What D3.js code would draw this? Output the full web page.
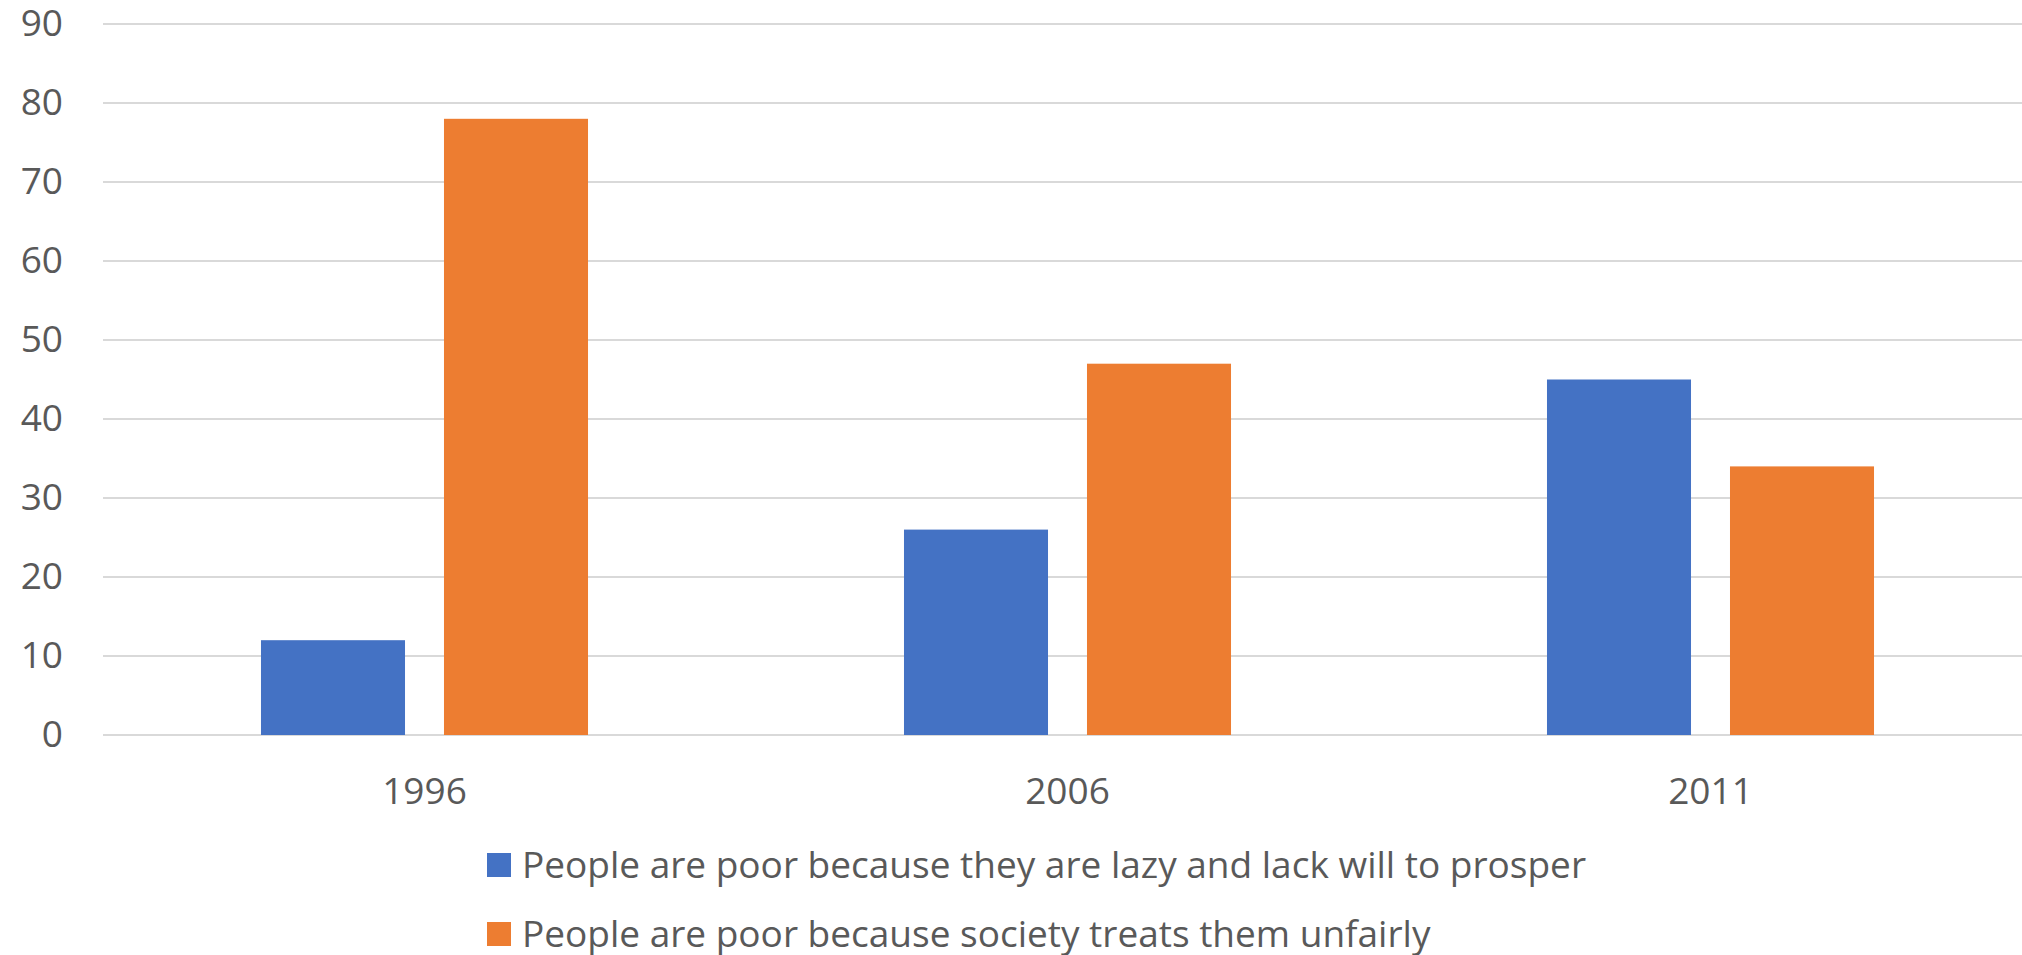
<!DOCTYPE html>
<html>
<head>
<meta charset="utf-8">
<script src="https://cdn.jsdelivr.net/npm/d3@7"></script>
<style>
  html, body { margin: 0; padding: 0; background: #fff; }
  svg { display: block; }
  text { font-family: "Open Sans", sans-serif; fill: #595959; }
</style>
</head>
<body>
<svg id="chart" width="2022" height="955"></svg>
<script>
const categories = ["1996", "2006", "2011"];
const seriesNames = [
  "People are poor because they are lazy and lack will to prosper",
  "People are poor because society treats them unfairly"
];
const lazyValues = [12, 26, 45];
const unfairValues = [78, 47, 34];
const yTicks = [0, 10, 20, 30, 40, 50, 60, 70, 80, 90];
const colors = ["#4472C4", "#ED7D31"];

(function () {
const seriesValues = [lazyValues, unfairValues];
const svg = d3.select("#chart");

const mLeft = 103, mRight = 2032, mTop = 24, mBottom = 735;

const y = d3.scaleLinear().domain([0, 90]).range([mBottom, mTop]);
const x0 = d3.scaleBand().domain(categories).range([mLeft, mRight])
  .paddingInner(0.4914).paddingOuter(0.2457);
const x1 = d3.scaleBand().domain(d3.range(seriesNames.length)).range([0, x0.bandwidth()])
  .paddingInner(0.213).paddingOuter(0);

// gridlines
svg.append("g")
  .selectAll("line").data(yTicks).join("line")
  .attr("x1", mLeft).attr("x2", 2022)
  .attr("y1", d => y(d)).attr("y2", d => y(d))
  .attr("stroke", "#D9D9D9").attr("stroke-width", 2);

// y axis labels
const yAxis = d3.axisLeft(y).tickValues(yTicks).tickSize(0).tickPadding(0);
const yg = svg.append("g").attr("transform", "translate(63,0)").call(yAxis);
yg.select(".domain").remove();
yg.selectAll("text").style("font-size", "37px").attr("fill", "#595959")
  .style("font-family", "'Open Sans', sans-serif");

// bars
const groups = svg.append("g").selectAll("g").data(categories).join("g")
  .attr("transform", d => `translate(${x0(d)},0)`);
groups.selectAll("rect")
  .data((d, i) => seriesValues.map((vals, s) => ({ s, v: vals[i] })))
  .join("rect")
  .attr("x", d => x1(d.s))
  .attr("width", x1.bandwidth())
  .attr("y", d => y(d.v))
  .attr("height", d => y(0) - y(d.v))
  .attr("fill", d => colors[d.s]);

// x axis labels
const xAxis = d3.axisBottom(x0).tickSize(0).tickPadding(0);
const xg = svg.append("g").attr("transform", "translate(0,791)").call(xAxis);
xg.select(".domain").remove();
xg.selectAll("text").attr("dy", "0.35em").style("font-size", "37px").attr("fill", "#595959")
  .style("font-family", "'Open Sans', sans-serif");

// legend
const legend = svg.append("g").selectAll("g").data(seriesNames).join("g")
  .attr("transform", (d, i) => `translate(487,${865 + i * 69})`);
legend.append("rect").attr("x", 0).attr("y", -12).attr("width", 24).attr("height", 24)
  .attr("fill", (d, i) => colors[i]);
legend.append("text").attr("x", 35).attr("dy", "0.35em")
  .style("font-size", "37px").text(d => d);
})();
</script>
</body>
</html>
